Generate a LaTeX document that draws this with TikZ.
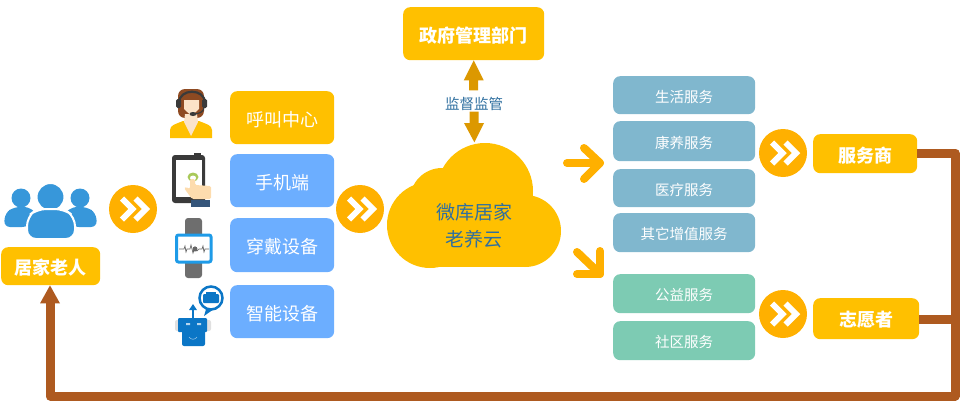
\documentclass[tikz,border=0pt]{standalone}
\usepackage{fontspec}
\setmainfont{Noto Sans CJK SC}
\usetikzlibrary{arrows.meta,calc}
\definecolor{amber}{HTML}{FFC000}
\definecolor{chevorange}{HTML}{FFB000}
\definecolor{softblue}{HTML}{6CAEFF}
\definecolor{teal1}{HTML}{80B7CE}
\definecolor{green1}{HTML}{7DCBB3}
\definecolor{brownline}{HTML}{AE5A20}
\definecolor{darkgold}{HTML}{DC9800}
\definecolor{labelblue}{HTML}{2F6F9F}
\definecolor{peopleblue}{HTML}{3797DA}
\definecolor{robotblue}{HTML}{0B76C6}
\definecolor{hairbrown}{HTML}{8E4A22}
\definecolor{skin}{HTML}{FBE3C8}
\definecolor{handskin}{HTML}{FDDCAE}
\definecolor{darkset}{HTML}{3A3A3A}
\definecolor{cuff}{HTML}{35557A}
\definecolor{touchgreen}{HTML}{A9C95A}
\definecolor{watchblue}{HTML}{1E9BE8}
\definecolor{strap}{HTML}{6E6E6E}
\newcommand{\tx}[1]{\raisebox{-1.5pt}[\height][\depth]{#1}}
\tikzset{
  box/.style={rounded corners=7pt,inner sep=0pt,text=white,anchor=north west,align=center},
  yellowbox/.style={box,fill=amber,font=\fontsize{18}{20}\selectfont},
  bluebox/.style={box,fill=softblue,font=\fontsize{18}{20}\selectfont},
  svcbox/.style={box,fill=teal1,font=\fontsize{14.5}{17}\selectfont,minimum width=142pt},
  grnbox/.style={box,fill=green1,font=\fontsize{14.5}{17}\selectfont,minimum width=142pt},
  chevcircle/.style={circle,fill=chevorange,minimum size=48pt,inner sep=0pt},
  chevline/.style={white,line width=6pt,miter limit=10},
  bigarrow/.style={draw=none,fill=darkgold},
  feed/.style={draw=brownline,line width=9pt,line join=round},
  orangearrow/.style={draw=chevorange,line width=8pt,line join=round,line cap=round},
}
\newcommand{\chevs}[1]{%
  \draw[chevline] ($(#1)+(-11,-10.5)$) -- ($(#1)+(-0.5,0)$) -- ($(#1)+(-11,10.5)$);
  \draw[chevline] ($(#1)+(2.5,-10.5)$) -- ($(#1)+(13,0)$) -- ($(#1)+(2.5,10.5)$);}
\begin{document}
\begin{tikzpicture}[x=1pt,y=-1pt]
\useasboundingbox (0,0) rectangle (975,415);
% --- boxes
\node[yellowbox,minimum width=99pt,minimum height=38pt,font=\fontsize{18}{20}\selectfont\bfseries] (elder) at (1,247) {\tx{居家老人}};
\node[yellowbox,minimum width=104pt,minimum height=53pt] (call) at (230,91) {\tx{呼叫中心}};
\node[bluebox,minimum width=104pt,minimum height=53pt] (phone) at (230,154) {\tx{手机端}};
\node[bluebox,minimum width=104pt,minimum height=54pt] (wear) at (230,218) {\tx{穿戴设备}};
\node[bluebox,minimum width=104pt,minimum height=53pt] (smart) at (230,285) {\tx{智能设备}};
\node[yellowbox,minimum width=141pt,minimum height=53pt,font=\fontsize{18}{20}\selectfont\bfseries] (gov) at (403,7) {\tx{政府管理部门}};
\node[svcbox,minimum height=38pt] (s1) at (613,76) {\tx{生活服务}};
\node[svcbox,minimum height=40pt] (s2) at (613,121) {\tx{康养服务}};
\node[svcbox,minimum height=38pt] (s3) at (613,169) {\tx{医疗服务}};
\node[svcbox,minimum height=39pt] (s4) at (613,213) {\tx{其它增值服务}};
\node[grnbox,minimum height=39pt] (s5) at (613,274) {\tx{公益服务}};
\node[grnbox,minimum height=39pt] (s6) at (613,321) {\tx{社区服务}};
\node[yellowbox,minimum width=104pt,minimum height=39pt,font=\fontsize{18}{20}\selectfont\bfseries] (provider) at (813,134) {\tx{服务商}};
\node[yellowbox,minimum width=106pt,minimum height=41pt,font=\fontsize{18}{20}\selectfont\bfseries] (volunteer) at (813,298) {\tx{志愿者}};
% --- chevron circles
\node[chevcircle] (c1) at (133,209) {}; \chevs{c1}
\node[chevcircle] (c2) at (360,209) {}; \chevs{c2}
\node[chevcircle] (c3) at (783,153) {}; \chevs{c3}
\node[chevcircle] (c4) at (783,314) {}; \chevs{c4}
% --- cloud
\fill[amber] (430,225) circle (43);
\fill[amber] (525,231) circle (36);
\fill[amber] (442,200) circle (32);
\fill[amber] (485,191) circle (48);
\fill[amber] (430,200) rectangle (525,267);
\node[inner sep=0pt] (cloudtop) at (474,143) {};
\node[text=labelblue,font=\fontsize{19}{27}\selectfont,align=center] (cloud) at (474,224) {\tx{微库居家}\\\tx{老养云}};
% --- supervision arrows
\node[text=labelblue,font=\fontsize{14.5}{17}\selectfont,inner sep=0pt] (sup) at (474,102) {\tx{监督监管}};
\fill[bigarrow] (gov.south) -- ++(10,20) -- ++(-5.5,0) -- ++(0,10) -- ++(-9,0) -- ++(0,-10) -- ++(-5.5,0) -- cycle;
\fill[bigarrow] (cloudtop) -- ++(10,-20) -- ++(-5.5,0) -- ++(0,-11.5) -- ++(-9,0) -- ++(0,11.5) -- ++(-5.5,0) -- cycle;
% --- orange arrows
\coordinate (a1s) at (567,163); \coordinate (a1t) at (600,163);
\draw[orangearrow] (a1s) -- (a1t);
\draw[orangearrow] (584,148) -- (a1t) -- (584,179);
\coordinate (a2s) at (577,252); \coordinate (a2t) at (600,274);
\draw[orangearrow] (a2s) -- (a2t);
\draw[orangearrow] (600,251) -- (a2t) -- (577,274);
% --- feedback line
\coordinate (corner1) at (955,153);
\coordinate (corner2) at (955,396);
\coordinate (corner3) at (50,396);
\draw[feed] (provider.east |- corner1) -- (corner1) -- (corner2) -- (corner3) -- (50,300);
\draw[feed] (volunteer.east |- 0,319) -- (955,319);
\fill[brownline] (elder.south -| corner3) -- ++(10,18) -- ++(-20,0) -- cycle;
% --- people icon
\fill[peopleblue] (21,198) circle (9.5) (80,198) circle (9.5);
\fill[peopleblue,rounded corners=6pt] (4,227) -- (5,213) -- (14,207) -- (30,207) -- (38,216) -- (28,227) -- cycle;
\fill[peopleblue,rounded corners=6pt] (97,227) -- (96,213) -- (87,207) -- (71,207) -- (63,216) -- (73,227) -- cycle;
\draw[white,line width=2pt,fill=peopleblue] (50.5,197) circle (14);
\draw[white,line width=2pt,fill=peopleblue,rounded corners=9pt] (27,239) -- (27,217) -- (37,209) -- (64,209) -- (75,217) -- (75,239) -- cycle;
% --- operator icon
\fill[hairbrown,rounded corners=7pt] (178,118) -- (178,89) -- (204,89) -- (204,118) -- cycle;
\fill[amber] (170,138) -- (170,130) .. controls (170,125) and (176,124) .. (183,121) -- (199,121) .. controls (206,124) and (212,125) .. (212,130) -- (212,138) -- cycle;
\fill[skin] (185,114) -- (197,114) -- (198,122) -- (191,136) -- (184,122) -- cycle;
\fill[skin] (184,100) -- (199,100) -- (199,109) -- (191.5,116) -- (184,109) -- cycle;
\draw[darkset,line width=2.2pt] (179,103) .. controls (179,88) and (205,88) .. (205,103);
\fill[darkset,rounded corners=1.5pt] (176,99) rectangle (181,108);
\fill[darkset,rounded corners=1.5pt] (202,99) rectangle (207,108);
\draw[darkset,line width=1.2pt] (204,107) .. controls (204,112) and (199,114) .. (193,114);
\fill[darkset] (193,114) ellipse (3.5 and 2);
% --- tablet icon
\fill[darkset,rounded corners=3pt] (172,155) rectangle (205,203);
\fill[darkset] (194,153) rectangle (201,156);
\fill[white] (176,160) rectangle (202,197);
\fill[touchgreen] (193,177) ellipse (5.5 and 4.5);
\fill[white] (193,178) ellipse (3 and 2.5);
\fill[handskin,rounded corners=1.5pt] (184,188) -- (186,187) -- (190,189) -- (190,179) -- (195,179) -- (195,185) -- (211,186) -- (211,199) -- (192,199) -- cycle;
\fill[cuff] (191,200) rectangle (210,207);
% --- watch icon
\fill[strap,rounded corners=3pt] (185,218) rectangle (202,278);
\draw[draw=watchblue,fill=white,line width=3pt,rounded corners=2pt] (176.5,235) rectangle (211,262);
\draw[black!60,line width=.7pt] (179,249) -- (184,249) -- (185,246) -- (186,252) -- (187,249) -- (190,249) -- (191,245) -- (193,253) -- (195,247) -- (197,251) -- (199,249) -- (202,249) -- (203,246) -- (204,252) -- (205,249) -- (209,249);
\fill[black!60] (195,249) circle (2.5);
% --- robot icon
\fill[black!12,rounded corners=2pt] (175,320) rectangle (211,331);
\fill[robotblue,rounded corners=1pt] (178,318) rectangle (207,332);
\fill[robotblue,rounded corners=2pt] (182,330) rectangle (205,346);
\draw[robotblue,line width=1.8pt] (193,318) -- (193,308);
\fill[robotblue] (193,304) -- (197,310) -- (189,310) -- cycle;
\fill[white!70!robotblue] (186,323) rectangle (190,325) (197,323) rectangle (201,325);
\draw[white!60!robotblue,line width=.5pt] (189,337) .. controls (191,340) and (195,340) .. (197,337);
\fill[robotblue] (204,316) -- (207,306) -- (214,309) -- cycle;
\draw[robotblue,fill=white,line width=2.5pt] (211,298) circle (11.5);
\fill[robotblue,rounded corners=1pt] (203,294) rectangle (219,303);
\fill[robotblue] (206,292) rectangle (216,295);
\end{tikzpicture}
\end{document}
